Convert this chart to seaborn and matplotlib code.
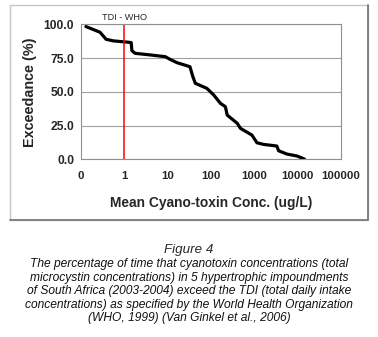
import matplotlib
matplotlib.use('Agg')
import matplotlib.pyplot as plt
from matplotlib.patches import Rectangle
from matplotlib.lines import Line2D
import seaborn as sns
import pandas as pd

# values
conc = [0.13, 0.275, 0.38, 0.56, 1.25, 1.45, 1.5, 1.78, 4.0, 8.9, 11.5, 16.5, 33,
        38.6, 44, 81, 117, 167, 218, 240, 410, 485, 895, 1170, 1670, 3370, 3700,
        5780, 9900, 14700]
exceed = [98.3, 94.1, 88.9, 87.7, 86.7, 86.4, 80.5, 78.5, 77.3, 76.0, 74.0, 71.6,
          68.6, 61.2, 56.3, 52.6, 47.7, 41.5, 39.0, 32.8, 26.7, 23.0, 18.0, 12.3,
          11.1, 9.9, 6.4, 3.95, 2.5, 0.25]
xticks = [0.1, 1, 10, 100, 1000, 10000, 100000]
xlabels = ['0', '1', '10', '100', '1000', '10000', '100000']
yticks = [0, 25, 50, 75, 100]
tdi = 1

df = pd.DataFrame({'conc': conc, 'exceed': exceed})

sns.set_style('white')
plt.rcParams['font.family'] = ['Liberation Sans', 'DejaVu Sans']

fig = plt.figure(figsize=(3.78, 3.37), dpi=100)
ax = fig.add_axes([0.2143, 0.527, 0.6865, 0.401])

# outer chart box (lighter top/left, darker bottom/right)
x0, x1 = 10 / 378, 368 / 378
y0, y1 = 1 - 220 / 337, 1 - 5 / 337
fig.patches.append(Rectangle((x0, y0), x1 - x0, y1 - y0, transform=fig.transFigure,
                             fill=False, edgecolor='#c4c4c4', lw=1.0))
fig.lines.append(Line2D([x0, x1, x1], [y0, y0, y1], transform=fig.transFigure,
                        color='#7a7a7a', lw=1.3))

sns.lineplot(data=df, x='conc', y='exceed', sort=False, estimator=None,
             color='black', lw=2.3, ax=ax)
ax.axvline(tdi, color='red', lw=1.1)

ax.set_xscale('log')
ax.set_xlim(0.1, 100000)
ax.set_ylim(0, 100)
ax.set_xticks(xticks)
ax.set_xticklabels(xlabels)
ax.minorticks_off()
ax.set_yticks(yticks)
ax.set_yticklabels(['%.1f' % v for v in yticks])
ax.yaxis.grid(True, color='#a0a0a0', lw=0.8)
ax.set_axisbelow(True)
for s in ax.spines.values():
    s.set_color('#909090')
    s.set_linewidth(0.8)
ax.tick_params(axis='both', length=3, width=0.8, color='#909090',
               direction='out', pad=5)
ax.tick_params(axis='x', labelsize=8.2)
ax.tick_params(axis='y', labelsize=8.7, pad=2)
for lab in ax.get_xticklabels() + ax.get_yticklabels():
    lab.set_fontweight('bold')

ax.set_xlabel('Mean Cyano-toxin Conc. (ug/L)', fontsize=9.9, fontweight='bold', labelpad=11)
ax.set_ylabel('Exceedance (%)', fontsize=10.4, fontweight='bold', labelpad=5)
ax.text(tdi, 102, 'TDI - WHO', ha='center', va='bottom', fontsize=6.6)

fig.text(0.5, 1 - 250 / 337, 'Figure 4', ha='center', va='center', fontsize=9.6,
         style='italic')
caption = ('The percentage of time that cyanotoxin concentrations (total\n'
           'microcystin concentrations) in 5 hypertrophic impoundments\n'
           'of South Africa (2003-2004) exceed the TDI (total daily intake\n'
           'concentrations) as specified by the World Health Organization\n'
           '(WHO, 1999) (Van Ginkel et al., 2006)')
fig.text(0.5, 1 - 258 / 337, caption, ha='center', va='top', fontsize=8.65,
         style='italic', linespacing=1.17, multialignment='center', color='#111111')

fig.savefig('out.png', dpi=100)
